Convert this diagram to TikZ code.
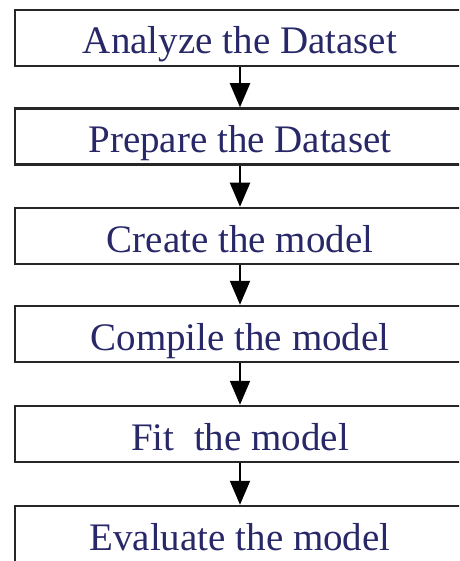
\documentclass[tikz,border=0pt]{standalone}
\usepackage{fontspec}
\setmainfont{Liberation Serif}
\usetikzlibrary{arrows.meta}
\definecolor{navy}{RGB}{40,40,105}
\tikzset{
  stage/.style={draw=black!85, line width=2.5pt, minimum width=450pt,
    minimum height=56pt, inner sep=0pt, text=navy,
    font=\fontsize{39}{39}\selectfont, text height=36pt, text depth=4pt},
  flow/.style={line width=2pt, -{Triangle[length=24pt,width=20pt]}}
}
\begin{document}
\begin{tikzpicture}[x=1pt,y=-1pt]
  \useasboundingbox (0,0) rectangle (459,561);
  \clip (0,0) rectangle (459,561);
  \def\stagenode#1#2#3{
    \node[stage] (#1) at (240,#2) {#3};
  }
  \stagenode{analyze}{38}{Analyze the Dataset}
  \stagenode{prepare}{136.5}{Prepare the Dataset}
  \stagenode{create}{236}{Create the model}
  \stagenode{compile}{334}{Compile the model}
  \stagenode{fit}{434}{Fit\ \ the model}
  \stagenode{evaluate}{534}{Evaluate the model}
  \draw[flow] (analyze) -- (prepare);
  \draw[flow] (prepare) -- (create);
  \draw[flow] (create) -- (compile);
  \draw[flow] (compile) -- (fit);
  \draw[flow] (fit) -- (evaluate);
\end{tikzpicture}
\end{document}
